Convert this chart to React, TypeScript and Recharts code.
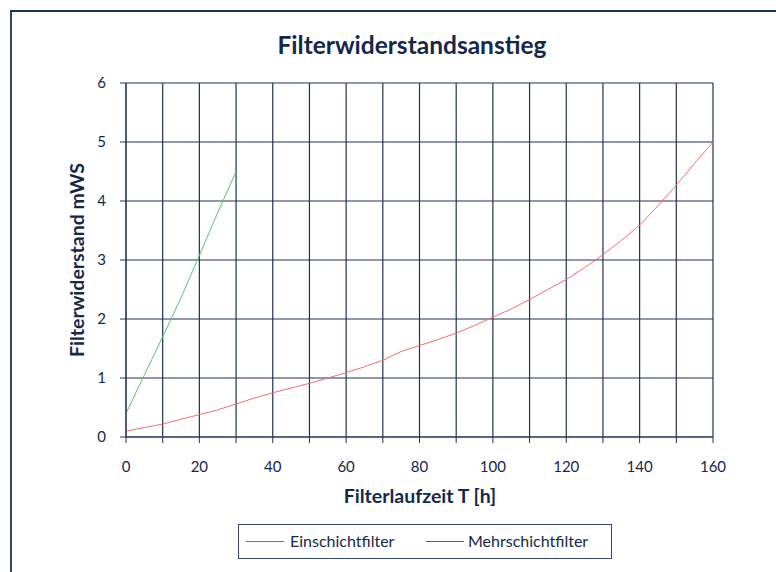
import React from 'react';
import { LineChart, Line, XAxis, YAxis, CartesianGrid, Legend } from 'recharts';

const timeTicks = [0, 10, 20, 30, 40, 50, 60, 70, 80, 90, 100, 110, 120, 130, 140, 150, 160];
const resistanceTicks = [0, 1, 2, 3, 4, 5, 6];

const einTimes = [0, 5, 10, 15, 20, 25, 30];
const einValues = [0.4, 1.05, 1.7, 2.36, 3.08, 3.8, 4.5];

const mehrTimes = [0, 5, 10, 15, 20, 25, 30, 35, 40, 45, 50, 55, 60, 65, 70, 75, 80, 85, 90, 95, 100, 105, 110, 115, 120, 125, 130, 135, 140, 145, 150, 155, 160];
const mehrValues = [0.1, 0.16, 0.22, 0.3, 0.38, 0.46, 0.56, 0.66, 0.75, 0.83, 0.91, 1.0, 1.09, 1.19, 1.3, 1.45, 1.55, 1.65, 1.76, 1.89, 2.03, 2.17, 2.33, 2.5, 2.67, 2.87, 3.09, 3.33, 3.59, 3.92, 4.27, 4.64, 5.0];

const einData = einTimes.map((t, i) => ({ t, v: einValues[i] }));
const mehrData = mehrTimes.map((t, i) => ({ t, v: mehrValues[i] }));

const NAVY = '#14284b';
const GRID = '#1e3356';
const FONT = 'Lato, "Open Sans", sans-serif';

const legendItems = [
  { name: 'Einschichtfilter', color: '#2ca24a' },
  { name: 'Mehrschichtfilter', color: '#e0262b' },
];

const LegendBox = () => (
  <div
    style={{
      position: 'relative',
      width: 374,
      height: 35,
      border: '1px solid #34496b',
      boxSizing: 'border-box',
      fontFamily: FONT,
      fontSize: 16,
      color: NAVY,
      background: '#fff',
    }}
  >
    {legendItems.map((it, i) => (
      <React.Fragment key={it.name}>
        <div
          style={{
            position: 'absolute',
            left: i === 0 ? 7 : 187,
            top: 16,
            width: 38,
            height: 1,
            background: it.color,
          }}
        />
        <span
          style={{
            position: 'absolute',
            left: i === 0 ? 51 : 229,
            top: 6,
            lineHeight: '20px',
            whiteSpace: 'nowrap',
          }}
        >
          {it.name}
        </span>
      </React.Fragment>
    ))}
  </div>
);

const xTickFormatter = (v: number) => (v % 20 === 0 ? String(v) : '');

export default function App() {
  return (
    <div style={{ position: 'absolute', left: 0, top: 0, width: 776, height: 572, background: '#fff', overflow: 'hidden' }}>
      <div
        style={{
          position: 'absolute',
          left: 10,
          top: 10,
          width: 800,
          height: 600,
          borderLeft: '2px solid #2d4669',
          borderTop: '2px solid #1d3257',
        }}
      />
      <div
        style={{
          position: 'absolute',
          left: 0,
          top: 31,
          width: 824,
          textAlign: 'center',
          fontFamily: FONT,
          fontWeight: 700,
          fontSize: 24.5,
          lineHeight: '28px',
          color: NAVY,
        }}
      >
        Filterwiderstandsanstieg
      </div>
      <div style={{ position: 'absolute', left: 0, top: 0 }}>
        <LineChart width={776} height={572} margin={{ top: 83, right: 63, bottom: 75, left: 0 }}>
          <CartesianGrid stroke={GRID} strokeWidth={1.2} />
          <XAxis
            dataKey="t"
            type="number"
            domain={[0, 160]}
            ticks={timeTicks}
            interval={0}
            tickFormatter={xTickFormatter}
            tickSize={6}
            tickMargin={18}
            height={60}
            stroke={GRID}
            tick={{ fill: NAVY, fontFamily: FONT, fontSize: 15 }}
            tickLine={{ stroke: GRID }}
            axisLine={{ stroke: GRID }}
            allowDuplicatedCategory={false}
            label={() => (
              <text x={420} y={503} textAnchor="middle" fontFamily={FONT} fontWeight={700} fontSize={19.5} fill={NAVY}>
                Filterlaufzeit T [h]
              </text>
            )}
          />
          <YAxis
            type="number"
            domain={[0, 6]}
            ticks={resistanceTicks}
            interval={0}
            tickSize={6}
            tickMargin={14}
            width={126}
            stroke={GRID}
            tick={{ fill: NAVY, fontFamily: FONT, fontSize: 15 }}
            tickLine={{ stroke: GRID }}
            axisLine={{ stroke: GRID }}
            label={() => (
              <text
                x={84}
                y={260}
                transform="rotate(-90, 84, 260)"
                textAnchor="middle"
                fontFamily={FONT}
                fontWeight={700}
                fontSize={19.5}
                fill={NAVY}
              >
                Filterwiderstand mWS
              </text>
            )}
          />
          <Legend
            layout="horizontal"
            verticalAlign="middle"
            align="center"
            wrapperStyle={{ top: 524, left: 238, width: 374, height: 35 }}
            content={() => <LegendBox />}
          />
          <Line
            data={einData}
            dataKey="v"
            name="Einschichtfilter"
            type="linear"
            stroke="#5cc46e"
            strokeWidth={1}
            dot={false}
            activeDot={false}
            isAnimationActive={false}
          />
          <Line
            data={mehrData}
            dataKey="v"
            name="Mehrschichtfilter"
            type="linear"
            stroke="#f26d72"
            strokeWidth={1}
            dot={false}
            activeDot={false}
            isAnimationActive={false}
          />
        </LineChart>
      </div>
    </div>
  );
}
